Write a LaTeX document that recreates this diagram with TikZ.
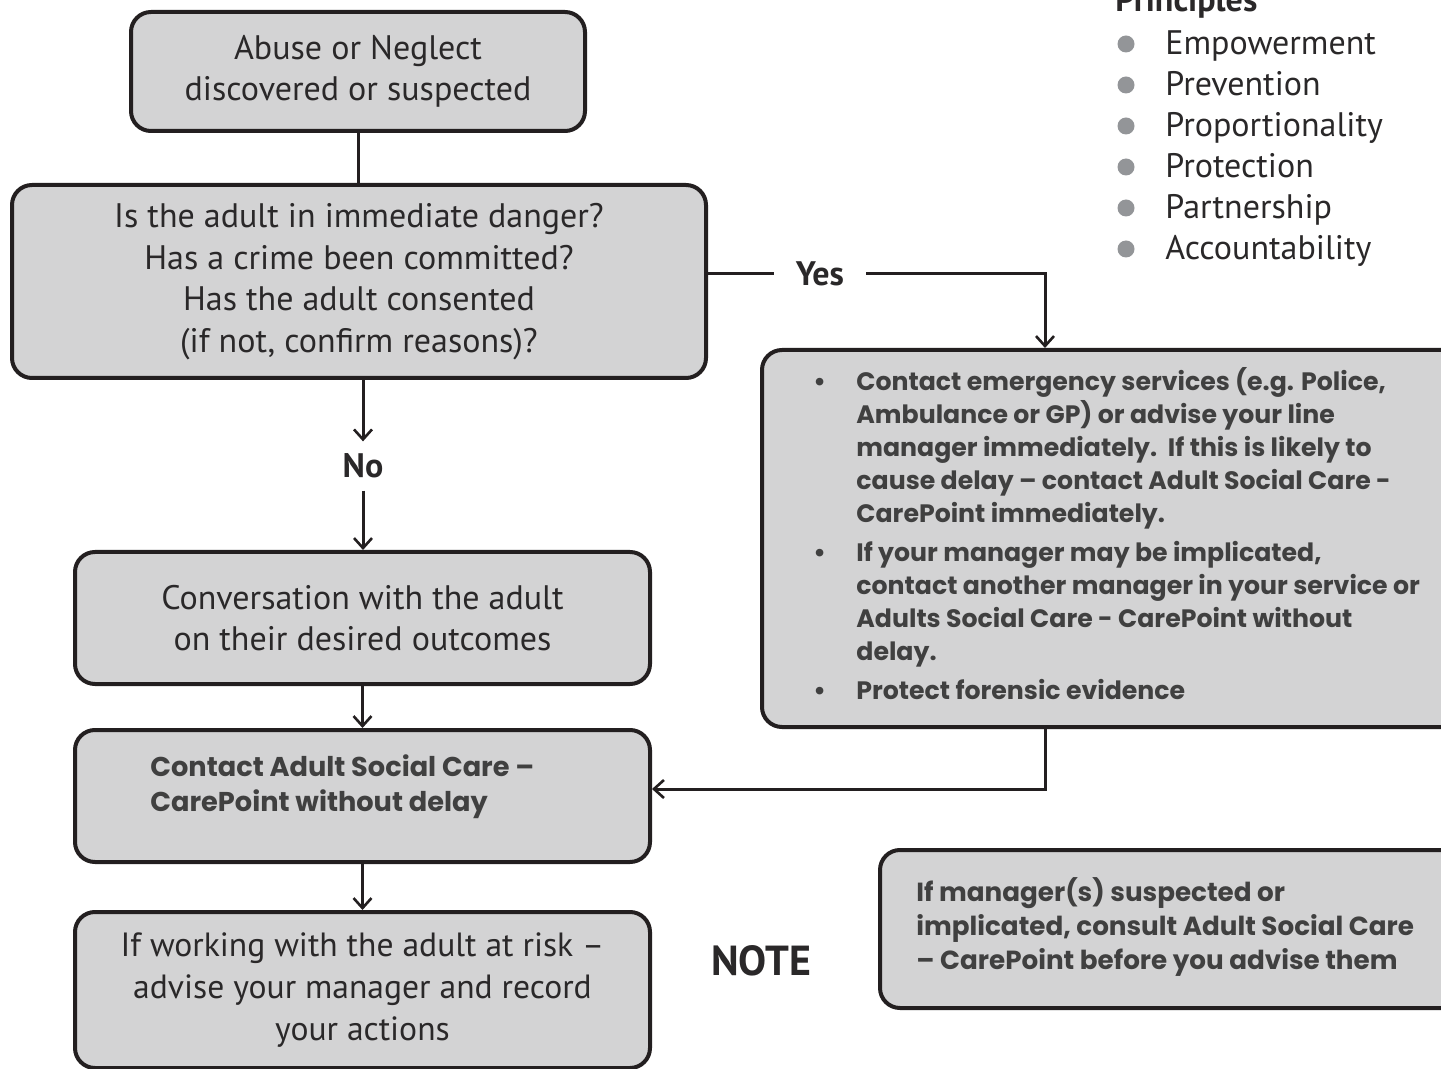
\documentclass[tikz,border=0pt]{standalone}
\usepackage{fontspec}
\setmainfont{PT Sans}
\newfontfamily\gothic{Poppins}
\usetikzlibrary{arrows.meta,calc}
\definecolor{boxfill}{HTML}{D3D3D4}
\definecolor{linecol}{HTML}{231F20}
\definecolor{txt}{HTML}{2A2829}
\definecolor{gtxt}{HTML}{404040}
\definecolor{dotgray}{HTML}{939598}
\tikzset{
  box/.style={draw=linecol, line width=2pt, fill=boxfill, rounded corners=10pt, inner sep=0pt},
  mtext/.style={text=txt, align=center, font=\fontsize{17}{20.5}\selectfont},
  gtext/.style={text=gtxt, align=left, inner sep=0pt},
  lbl/.style={text=txt, font=\fontsize{17}{20}\selectfont\bfseries, inner sep=1pt},
  conn/.style={draw=linecol, line width=1.5pt},
  arr/.style={conn, -{Straight Barb[length=5pt,width=9pt,line width=1.3pt]}},
  princ/.style={text=txt, anchor=base west, inner sep=0pt, font=\fontsize{17}{20}\selectfont},
  pdot/.style={fill=dotgray, draw=none, circle, minimum size=8.5pt, inner sep=0pt}
}
\begin{document}
\begin{tikzpicture}[x=0.5pt,y=-0.5pt]
\useasboundingbox (0,0) rectangle (1441,1069);
% boxes
\node[box, mtext, minimum width=227pt, minimum height=59.5pt] (A) at (358,71.5)
  {Abuse or Neglect\\discovered or suspected};
\node[box, mtext, minimum width=347pt, minimum height=96.5pt, font=\fontsize{17}{20.8}\selectfont] (B) at (359,281.5)
  {Is the adult in immediate danger?\\Has a crime been committed?\\Has the adult consented\\(if not, confirm reasons)?};
\node[box, mtext, minimum width=287.5pt, minimum height=66pt] (C) at (362.5,618)
  {Conversation with the adult\\on their desired outcomes};
\node[box, minimum width=287.5pt, minimum height=66pt] (D) at (362.5,796) {};
\node[gtext, anchor=west, font=\gothic\bfseries\fontsize{13.6}{17.5}\selectfont] (Dt) at (150,787)
  {Contact Adult Social Care –\\CarePoint without delay};
\node[box, mtext, minimum width=287.5pt, minimum height=78pt, font=\fontsize{16.8}{21}\selectfont] (E) at (362.5,990)
  {If working with the adult at risk –\\advise your manager and record\\your actions};
\node[box, minimum width=354pt, minimum height=188.5pt] (F) at (1116,538.5) {};
\node[gtext, anchor=west, font=\gothic\bfseries\fontsize{12.6}{16.5}\selectfont] (Ft) at (813,538)
  {\begin{tabular}{@{}l@{}l@{}}
   \makebox[21.5pt][l]{\textbullet} & Contact emergency services (e.g. Police,\\
   & Ambulance or GP) or advise your line\\
   & manager immediately.\ \ If this is likely to\\
   & cause delay – contact Adult Social Care -\\
   & CarePoint immediately.\\[3pt]
   \makebox[21.5pt][l]{\textbullet} & If your manager may be implicated,\\
   & contact another manager in your service or\\
   & Adults Social Care - CarePoint without\\
   & delay.\\[3pt]
   \makebox[21.5pt][l]{\textbullet} & Protect forensic evidence
  \end{tabular}};
\node[box, minimum width=295pt, minimum height=79pt] (G) at (1175,929) {};
\node[gtext, anchor=west, font=\gothic\bfseries\fontsize{13.1}{17}\selectfont] (Gt) at (916,927)
  {If manager(s) suspected or\\implicated, consult Adult Social Care\\– CarePoint before you advise them};
\node[lbl, font=\fontsize{21}{24}\selectfont\bfseries] (note) at (761,961) {NOTE};
% labels on connectors
\node[lbl, inner xsep=11pt] (yes) at (820,274) {Yes};
\node[lbl, inner ysep=6pt] (no) at (363,466) {No};
% connectors
\draw[conn] (A.south) -- (A.south |- B.north);
\draw[conn] (yes.west -| B.east) -- (yes.west);
\draw[arr] (yes.east) -| ($(F.north)+(-71,0)$);
\draw[arr] (B.south -| no.north) -- (no.north);
\draw[arr] (no.south) -- (no.south |- C.north);
\draw[arr] (C.south) -- (D.north);
\draw[arr] (D.south) -- (E.north);
\draw[arr] ($(F.south)+(-71,0)$) |- ($(D.east)+(0,-7)$);
% principles
\node[princ, font=\fontsize{17}{20}\selectfont\bfseries] (ph) at (1115,12) {Principles};
\foreach \t [count=\i from 0] in {Empowerment,Prevention,Proportionality,Protection,Partnership,Accountability}{
  \node[princ] (p\i) at (1165,{55+41*\i}) {\t};
  \node[pdot] (d\i) at (1126,{44+41*\i}) {};
}
\end{tikzpicture}
\end{document}
